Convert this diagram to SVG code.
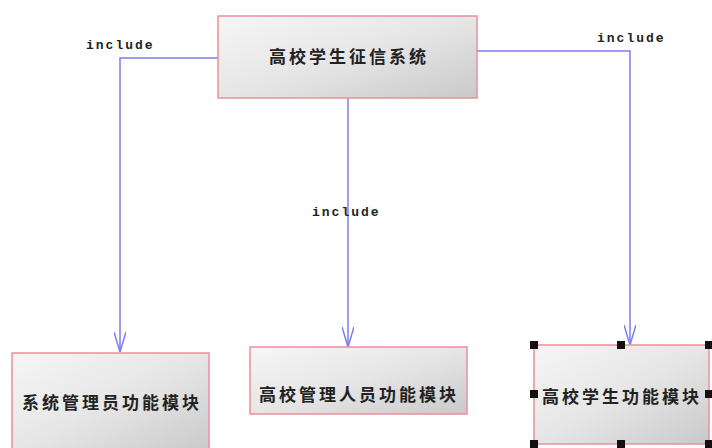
<svg xmlns="http://www.w3.org/2000/svg" width="712" height="448" viewBox="0 0 712 448">
<style>
.box{fill:url(#g);stroke:#ec8f98;stroke-width:1.5}
.t{font-family:"Noto Sans CJK SC","Noto Sans",sans-serif;font-size:17px;font-weight:bold;fill:#222;letter-spacing:3px}
.lbl{font-family:"Liberation Mono","DejaVu Sans Mono",monospace;font-size:13px;font-weight:bold;fill:#222;letter-spacing:2px}
.c{fill:none;stroke:#7c7cee;stroke-width:1.5}
.h{fill:#111}
</style>
<defs>
<linearGradient id="g" x1="0" y1="0" x2="1" y2="1">
<stop offset="0" stop-color="#f6f6f6"/>
<stop offset="0.5" stop-color="#e6e6e6"/>
<stop offset="1" stop-color="#c9c9c9"/>
</linearGradient>
<marker id="a" viewBox="0 0 20 12" refX="20" refY="6" markerWidth="20" markerHeight="12" markerUnits="userSpaceOnUse" orient="auto">
<path d="M0,0 L20,6 L0,12" fill="none" stroke="#7c7cee" stroke-width="1.5"/>
</marker>
</defs>
<rect width="712" height="448" fill="#fff"/>
<g id="connectors">
<path class="c" d="M218,58 H120 V352" marker-end="url(#a)"/>
<path class="c" d="M348,98 V347" marker-end="url(#a)"/>
<path class="c" d="M477,51 H630 V345" marker-end="url(#a)"/>
<text class="lbl" x="86" y="49">include</text>
<text class="lbl" x="597" y="42">include</text>
<text class="lbl" x="312" y="216">include</text>
</g>
<g id="system">
<rect class="box" x="218" y="16" width="259" height="82"/>
<text class="t" x="349" y="63" text-anchor="middle">高校学生征信系统</text>
</g>
<g id="admin">
<rect class="box" x="12" y="353" width="197" height="100"/>
<text class="t" x="112" y="409" text-anchor="middle">系统管理员功能模块</text>
</g>
<g id="staff">
<rect class="box" x="250" y="347" width="217" height="67"/>
<text class="t" x="359" y="401" text-anchor="middle">高校管理人员功能模块</text>
</g>
<g id="student">
<rect class="box" x="534" y="345" width="175" height="99"/>
<text class="t" x="622" y="403" text-anchor="middle">高校学生功能模块</text>
<rect class="h" x="530" y="341" width="8" height="8"/>
<rect class="h" x="617" y="341" width="8" height="8"/>
<rect class="h" x="705" y="341" width="8" height="8"/>
<rect class="h" x="530" y="390" width="8" height="8"/>
<rect class="h" x="705" y="390" width="8" height="8"/>
<rect class="h" x="530" y="440" width="8" height="8"/>
<rect class="h" x="617" y="440" width="8" height="8"/>
<rect class="h" x="705" y="440" width="8" height="8"/>
</g>
</svg>
